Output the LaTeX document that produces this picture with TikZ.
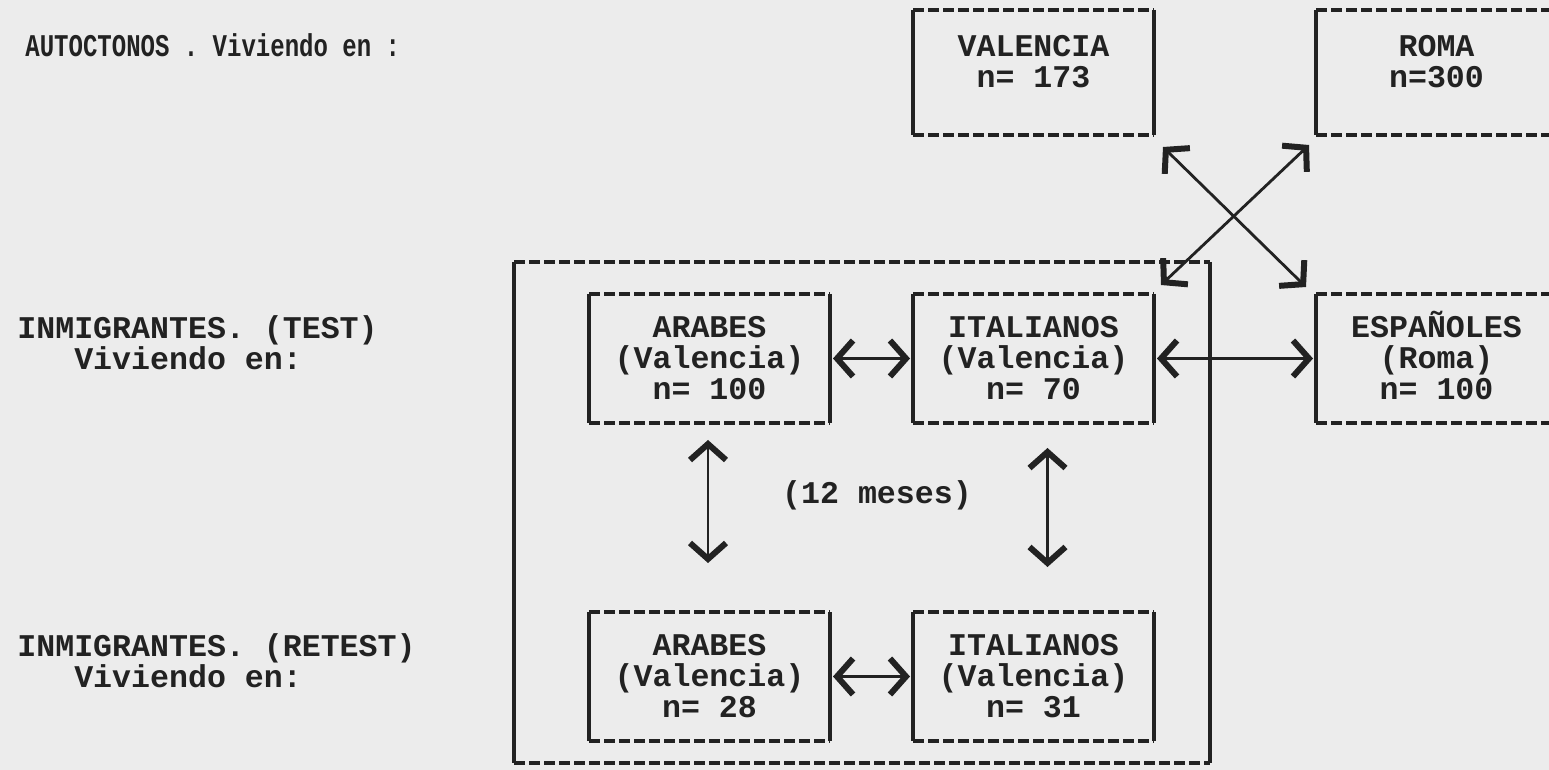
\documentclass[tikz,border=0pt]{standalone}
\usepackage{fontspec}
\usetikzlibrary{arrows.meta, positioning, calc}
\newfontfamily\typewriter{Liberation Mono}
\newfontfamily\typewriternarrow{Liberation Mono}[FakeStretch=0.76]
\newcommand{\boxfont}{\typewriter\bfseries\fontsize{15.8}{15.5}\selectfont}
\newcommand{\narrowfont}{\typewriternarrow\bfseries\fontsize{15.8}{15.5}\selectfont}
\definecolor{paper}{HTML}{ECECEC}
\definecolor{ink}{HTML}{222222}

% solid sides, dashed top and bottom
\newcommand{\drawframe}[1]{%
  \draw[side] (#1.north west) -- (#1.south west) (#1.north east) -- (#1.south east);
  \draw[side, dash pattern=on 5.5pt off 2pt] (#1.north west) -- (#1.north east) (#1.south west) -- (#1.south east);
}

\begin{document}
\begin{tikzpicture}[
            x=0.5pt, y=-0.5pt,
            box/.style={rectangle, inner sep=0pt, outer sep=0pt, minimum width=120.5pt, minimum height=64.5pt, align=center, font=\boxfont, text=ink},
            bigbox/.style={rectangle, inner sep=0pt, outer sep=0pt, minimum width=348pt, minimum height=250.5pt},
            side/.style={draw=ink, line width=2pt},
            twoway/.style={<->, >={Straight Barb[length=8pt, width=18pt, line width=3pt]}, draw=ink, line width=1.4pt, shorten <=1.5pt, shorten >=1.5pt},
            group/.style={inner sep=0pt, align=left, font=\boxfont, text=ink}
        ]
    \fill[paper] (0,0) rectangle (1549,770);
    \useasboundingbox (0,0) rectangle (1549,770);
    \clip (0,0) rectangle (1549,770);

    % test
    \node[box] (arabes1) at (709.5,358.5) {ARABES\\(Valencia)\\n= 100};
    \node[box, right=41.5pt of arabes1] (italianos1) {ITALIANOS\\(Valencia)\\n= 70};
    \node[box, right=81pt of italianos1] (espanoles) {\smash{ESPAÑOLES}\vphantom{E}\\(Roma)\\n= 100};

    % autoctonos
    \node[box, minimum height=62.5pt, above=79.5pt of italianos1] (valencia) {VALENCIA\\n= 173\\[-4pt]\mbox{}};
    \node[box, minimum height=62.5pt, right=81pt of valencia] (roma) {ROMA\\n=300\\[-4pt]\mbox{}};

    % retest
    \node[box, below=94.5pt of arabes1] (arabes2) {ARABES\\(Valencia)\\n= 28};
    \node[box, right=41.5pt of arabes2] (italianos2) {ITALIANOS\\(Valencia)\\n= 31};

    \node[bigbox] (period) at (862,512.5) {};
    \node[group] (meses) at (877,495) {(12 meses)};

    \foreach \b in {valencia, roma, arabes1, italianos1, espanoles, arabes2, italianos2, period}
        {\drawframe{\b}}

    % left column
    \node[inner sep=0pt, anchor=base west, font=\narrowfont, text=ink] (autoctonos) at (25,57) {AUTOCTONOS . Viviendo en :};
    \node[group, anchor=west] (test) at (17,342.5) {INMIGRANTES. (TEST)\\~~~Viviendo en:};
    \node[group, anchor=west] (retest) at (17,660.5) {INMIGRANTES. (RETEST)\\~~~Viviendo en:};

    \draw[twoway] (arabes1) -- (italianos1);
    \draw[twoway] (italianos1) -- (espanoles);
    \draw[twoway] (arabes2) -- (italianos2);
    \draw[twoway, shorten <=8.5pt, shorten >=24.5pt] ([xshift=-0.75pt]arabes1.south) -- ([xshift=-0.75pt]arabes2.north);
    \draw[twoway, shorten <=12.5pt, shorten >=22.5pt] ([xshift=7pt]italianos1.south) -- ([xshift=7pt]italianos2.north);

    \draw[twoway, shorten <=0pt, shorten >=0pt] ($(valencia.south east)+(9,12)$) -- ($(espanoles.north west)+(-10,-7)$);
    \draw[twoway, shorten <=0pt, shorten >=0pt] ($(roma.south west)+(-7,10)$) -- ($(italianos1.north east)+(7,-9)$);

\end{tikzpicture}
\end{document}
